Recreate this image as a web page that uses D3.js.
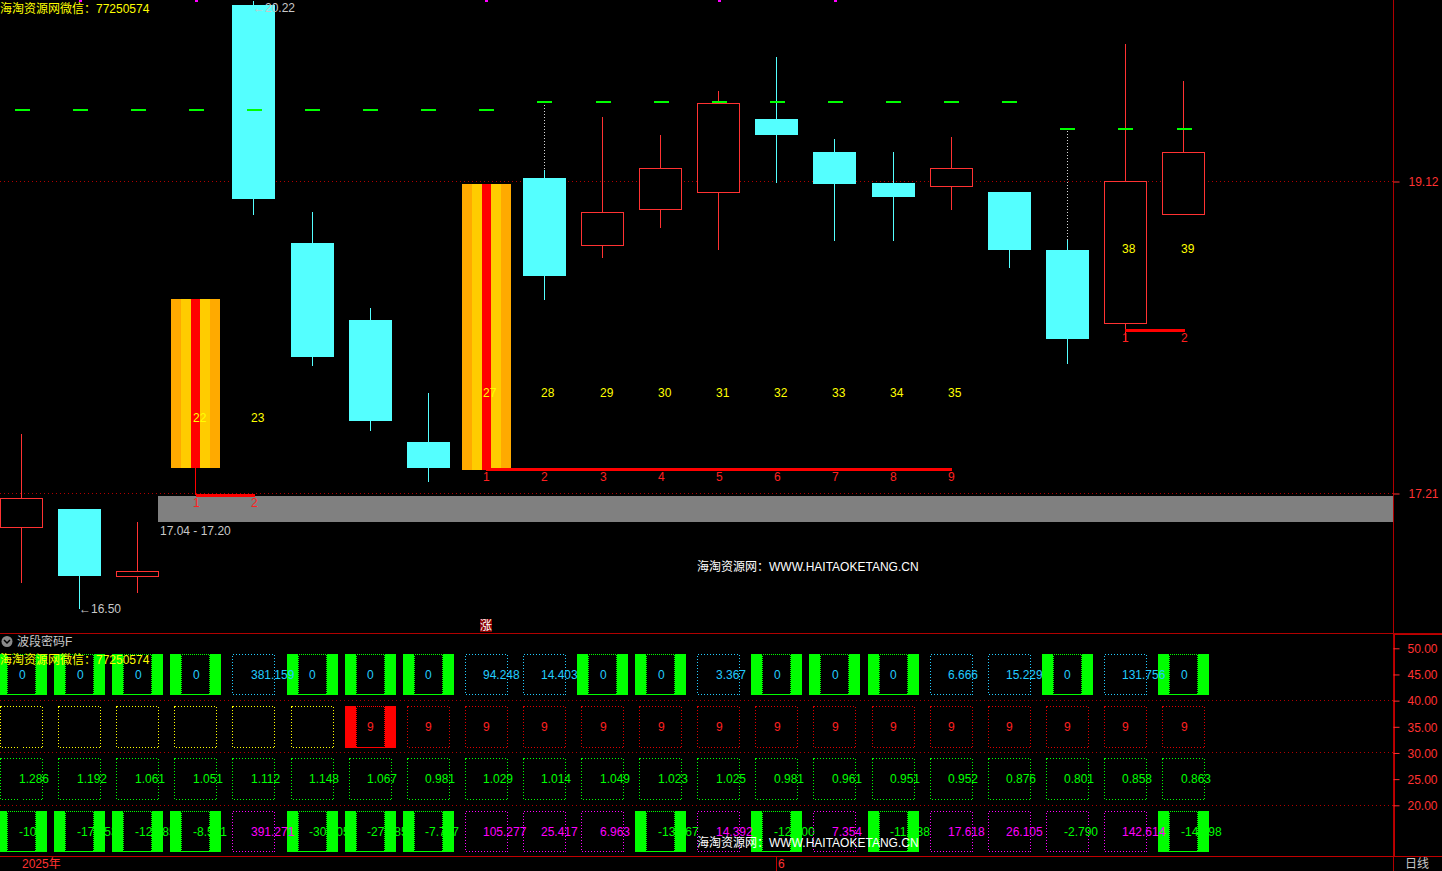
<!DOCTYPE html>
<html><head><meta charset="utf-8">
<script src="https://cdn.jsdelivr.net/npm/d3@7"></script>
<style>
html,body{margin:0;padding:0;background:#000;overflow:hidden}
svg{display:block}
text{font-family:"Liberation Sans","Noto Sans CJK SC",sans-serif;font-size:12px}
</style></head><body>
<svg id="c" width="1442" height="871"></svg>
<script>
// ---------- data ----------
const opens  = [17.00,17.11,16.70,17.36,20.20,18.74,18.27,17.52,17.35,19.14,18.73,18.95,19.05,19.50,19.30,19.11,19.09,19.05,18.70,18.25,18.92];
const highs  = [17.57,17.11,17.03,18.40,20.22,18.93,18.34,17.82,19.10,19.19,19.51,19.40,19.67,19.88,19.38,19.30,19.39,19.05,18.76,19.96,19.73];
const lows   = [16.66,16.50,16.60,17.20,18.91,17.99,17.59,17.28,17.35,18.39,18.65,18.83,18.70,19.11,18.75,18.75,18.94,18.59,18.00,18.14,18.92];
const closes = [17.18,16.70,16.73,18.40,19.01,18.04,17.65,17.36,19.10,18.54,18.93,19.20,19.60,19.40,19.10,19.02,19.20,18.70,18.15,19.12,19.30];
const limitUpIdx = [3, 8];
const resistLevels = [19.555,19.555,19.555,19.555,19.555,19.555,19.555,19.555,19.555,19.604,19.604,19.604,19.604,19.604,19.604,19.604,19.604,19.604,19.444,19.444,19.444];
const dottedIdx = [9, 18];
const markIdx = [1, 3, 8, 12, 14];
const countIdx   = [3, 4, 8, 9, 10, 11, 12, 13, 14, 15, 16, 19, 20];
const countText  = ["22","23","27","28","29","30","31","32","33","34","35","38","39"];
const countPrice = [17.67,17.67,17.826,17.826,17.826,17.826,17.826,17.826,17.826,17.826,17.826,18.706,18.706];
const segStart = [3, 8, 19];
const segEnd   = [4, 16, 20];
const segPrice = [17.20, 17.355, 18.21];
const bandLow = 17.04, bandHigh = 17.20;
const priceTicks = [19.12, 17.21];
const subTicks = [50, 45, 40, 35, 30, 25, 20];
const subGrid = [40, 30, 20];
const row1Vals = ["0","0","0","0","381.159","0","0","0","94.248","14.403","0","0","3.367","0","0","0","6.666","15.229","0","131.756","0"];
const row2Vals = ["","","","","","","9","9","9","9","9","9","9","9","9","9","9","9","9","9","9"];
const row2Filled = [6];
const row3Vals = ["1.286","1.192","1.061","1.051","1.112","1.148","1.067","0.981","1.029","1.014","1.049","1.023","1.025","0.981","0.961","0.951","0.952","0.876","0.801","0.858","0.863"];
const row4Vals = ["-10.1","-17.453","-12.885","-8.571","391.271","-30.105","-27.485","-7.727","105.277","25.417","6.963","-13.567","14.392","-12.200","7.354","-11.638","17.618","26.105","-2.790","142.614","-14.698"];
const row4Filled = [0,1,2,3,5,6,7,11,13,15,20];

// ---------- setup ----------
const svg = d3.select("#c");
const W = 1442, H = 871, axisX = 1393, mainBottom = 633, subBottom = 856;
const x = d3.scaleLinear().domain([0, 20]).range([21.5, 1183.5]);
const y = d3.scaleLinear().domain([19.12, 17.21]).range([181, 493]);
const ys = d3.scaleLinear().domain([50, 20]).range([648.3, 805.3]);
const HB = 21.5;
const CYAN = "#54ffff", RED = "#ff3232", AXRED = "#b00000";
const candles = d3.range(opens.length).map(i => ({i, o: opens[i], h: highs[i], l: lows[i], c: closes[i]}));
const px = v => Math.floor(v) + 0.5;

svg.append("rect").attr("width", W).attr("height", H).attr("fill", "#000");

// grid lines main
svg.selectAll(".g1").data(priceTicks).join("line")
  .attr("x1", 0).attr("x2", axisX).attr("y1", d => px(y(d))).attr("y2", d => px(y(d)))
  .attr("stroke", "#b00000").attr("stroke-dasharray", "1,3").attr("shape-rendering", "crispEdges");

// band
svg.append("rect").attr("x", Math.round(x(2) + HB - 1)).attr("y", Math.round(y(bandHigh)) + 1)
  .attr("width", axisX - Math.round(x(2) + HB - 1)).attr("height", Math.round(y(bandLow)) - Math.round(y(bandHigh)))
  .attr("fill", "#808080");
svg.append("text").attr("x", Math.round(x(2) + HB + 1)).attr("y", y(bandLow) + 10).attr("dy", "0.35em")
  .attr("fill", "#c8c8c8").text(bandLow.toFixed(2) + " - " + bandHigh.toFixed(2));

const main = svg.append("g").attr("shape-rendering", "crispEdges");
// normal candles
candles.filter(d => !limitUpIdx.includes(d.i)).forEach(d => {
  const cx = x(d.i), up = d.c >= d.o;
  const top = y(Math.max(d.o, d.c)), bot = y(Math.min(d.o, d.c));
  const col = up ? RED : CYAN;
  main.append("line").attr("x1", px(cx)).attr("x2", px(cx)).attr("y1", y(d.h)).attr("y2", top).attr("stroke", col);
  main.append("line").attr("x1", px(cx)).attr("x2", px(cx)).attr("y1", bot).attr("y2", y(d.l)).attr("stroke", col);
  if (up) {
    main.append("rect").attr("x", Math.round(cx - HB) + 0.5).attr("y", Math.round(top) + 0.5)
      .attr("width", 42).attr("height", Math.max(1, Math.round(bot) - Math.round(top)))
      .attr("fill", "#000").attr("stroke", col);
  } else {
    main.append("rect").attr("x", Math.round(cx - HB)).attr("y", Math.round(top))
      .attr("width", 43).attr("height", Math.max(1, Math.round(bot) - Math.round(top))).attr("fill", col);
  }
});
// limit-up bars
const stripeW = [10, 10, 9, 10, 10], stripeC = ["#ffaa00", "#ffcc00", "#ff0000", "#ffcc00", "#ffaa00"];
candles.filter(d => limitUpIdx.includes(d.i)).forEach(d => {
  const cx = x(d.i);
  const top = Math.round(y(d.c)), bot = Math.round(y(d.o));
  main.append("line").attr("x1", px(cx)).attr("x2", px(cx)).attr("y1", bot).attr("y2", y(d.l)).attr("stroke", "#ff0000");
  let sx = Math.round(cx - 24.5);
  stripeW.forEach((w, k) => {
    main.append("rect").attr("x", sx).attr("y", top).attr("width", w).attr("height", bot - top).attr("fill", stripeC[k]);
    sx += w;
  });
});
// dotted lines from high to resistance
dottedIdx.forEach(i => {
  main.append("line").attr("x1", px(x(i))).attr("x2", px(x(i))).attr("y1", y(resistLevels[i])).attr("y2", y(highs[i]))
    .attr("stroke", "#d8d8d8").attr("stroke-dasharray", "1,2");
});
// resistance dashes
main.selectAll(".rd").data(resistLevels).join("rect")
  .attr("x", (d, i) => Math.round(x(i)) - 7).attr("width", 15)
  .attr("y", d => Math.floor(y(d))).attr("height", 2).attr("fill", "#00ff00");
// magenta marks
main.selectAll(".mm").data(markIdx).join("rect")
  .attr("x", d => Math.round(x(d)) - 1).attr("y", 0).attr("width", 3).attr("height", 2).attr("fill", "#ff00ff");
// count labels
countIdx.forEach((i, k) => {
  main.append("text").attr("x", Math.round(x(i)) - 3).attr("y", y(countPrice[k])).attr("dy", "0.35em")
    .attr("fill", "#ffff00").text(countText[k]);
});
// red segments
segStart.forEach((s, k) => {
  const yy = Math.round(y(segPrice[k]));
  main.append("rect").attr("x", Math.round(x(s))).attr("width", Math.round(x(segEnd[k])) - Math.round(x(s)) + 1)
    .attr("y", yy - 1).attr("height", 3).attr("fill", "#ff0000");
  d3.range(s, segEnd[k] + 1).forEach((i, n) => {
    main.append("text").attr("x", Math.round(x(i)) - 3).attr("y", yy + 8).attr("dy", "0.35em")
      .attr("fill", "#ff2020").text(n + 1);
  });
});
// hi/lo labels
const hiIdx = highs.indexOf(d3.max(highs)), loIdx = lows.indexOf(d3.min(lows));
main.append("text").attr("x", Math.round(x(hiIdx)) - 1).attr("y", y(highs[hiIdx]) + 6).attr("dy", "0.35em")
  .attr("fill", "#c8c8c8").text("←" + highs[hiIdx].toFixed(2));
main.append("text").attr("x", Math.round(x(loIdx)) - 1).attr("y", y(lows[loIdx])).attr("dy", "0.35em")
  .attr("fill", "#c8c8c8").text("←" + lows[loIdx].toFixed(2));
// 涨 marker
main.append("rect").attr("x", Math.round(x(8)) - 6).attr("y", 619).attr("width", 12).attr("height", 13).attr("fill", "#8a0000");
main.append("text").attr("x", Math.round(x(8))).attr("y", 626).attr("dy", "0.35em").attr("text-anchor", "middle")
  .attr("fill", "#fff").text("涨");

// watermarks main
svg.append("text").attr("x", 0).attr("y", 9).attr("dy", "0.35em").attr("fill", "#ffff00").text("海淘资源网微信：77250574");
svg.append("text").attr("x", 697).attr("y", 567).attr("dy", "0.35em").attr("fill", "#ffffff").text("海淘资源网：WWW.HAITAOKETANG.CN");

// ---------- axes ----------
const ax = svg.append("g").attr("shape-rendering", "crispEdges");
ax.append("line").attr("x1", axisX + 0.5).attr("x2", axisX + 0.5).attr("y1", 0).attr("y2", H).attr("stroke", AXRED);
ax.append("line").attr("x1", 0).attr("x2", W).attr("y1", mainBottom + 0.5).attr("y2", mainBottom + 0.5).attr("stroke", AXRED);
ax.append("line").attr("x1", 0).attr("x2", W).attr("y1", subBottom + 0.5).attr("y2", subBottom + 0.5).attr("stroke", "#c00000");
ax.append("line").attr("x1", axisX + 1.5).attr("x2", axisX + 1.5).attr("y1", mainBottom + 1).attr("y2", subBottom).attr("stroke", "#c00000");
ax.append("line").attr("x1", axisX).attr("x2", W).attr("y1", mainBottom + 1.5).attr("y2", mainBottom + 1.5).attr("stroke", "#c00000");

const yAxis = d3.axisRight(y).tickValues(priceTicks).tickSize(6).tickFormat(d3.format(".2f"));
const ga = svg.append("g").attr("transform", `translate(${axisX + 0.5},0.5)`).call(yAxis);
ga.select(".domain").remove();
ga.selectAll("line").attr("stroke", "#ff3232");
ga.selectAll("text").attr("x", 15).attr("dy", "0.35em").attr("fill", "#ff3232").style("font-size", "12px")
  .style("font-family", '"Liberation Sans",sans-serif');

const sAxis = d3.axisRight(ys).tickValues(subTicks).tickSize(6).tickFormat(d3.format(".2f"));
const gs = svg.append("g").attr("transform", `translate(${axisX + 0.5},0)`).call(sAxis);
gs.select(".domain").remove();
gs.selectAll("line").attr("stroke", "#ff3232");
gs.selectAll("text").attr("x", 14).attr("dy", "0.35em").attr("fill", "#ff3232").style("font-size", "12px")
  .style("font-family", '"Liberation Sans",sans-serif');

// sub grid
svg.selectAll(".sg").data(subGrid).join("line")
  .attr("x1", 0).attr("x2", axisX).attr("y1", d => px(ys(d))).attr("y2", d => px(ys(d)))
  .attr("stroke", "#b00000").attr("stroke-dasharray", "1,3").attr("shape-rendering", "crispEdges");

// ---------- sub panel cells ----------
const rows = [
  {base: 45, vals: row1Vals, filled: row1Vals.map(v => v === "0"), fillCol: "#00ff00", boxCol: v => "#22ccff", txtCol: v => "#22ccff"},
  {base: 35, vals: row2Vals, filled: row2Vals.map((v, i) => row2Filled.includes(i)), fillCol: "#ff0000", boxCol: v => v === "" ? "#ffff00" : "#e00000", txtCol: v => "#ff2020"},
  {base: 25, vals: row3Vals, filled: row3Vals.map(() => false), fillCol: "#00ff00", boxCol: v => "#00ff00", txtCol: v => "#00ff00"},
  {base: 15, vals: row4Vals, filled: row4Vals.map((v, i) => row4Filled.includes(i)), fillCol: "#00ff00", boxCol: v => "#ff00ff", txtCol: v => (+v < 0 ? "#00ff00" : "#ff00ff")}
];
const lay1 = svg.append("g"), lay2 = svg.append("g").attr("shape-rendering", "crispEdges"), lay3 = svg.append("g");
rows.forEach(r => {
  const top = Math.round(ys(r.base + 4)), bot = Math.round(ys(r.base - 4));
  r.vals.forEach((v, i) => {
    const cx = x(i);
    const tl = r.filled[i] ? lay1 : lay3;
    if (v !== "") tl.append("text").attr("x", Math.round(cx) - 3).attr("y", ys(r.base)).attr("dy", "0.35em")
      .attr("fill", r.txtCol(v)).text(v);
    if (r.filled[i]) {
      lay2.append("rect").attr("x", Math.round(cx - 25.5)).attr("y", top).attr("width", 11).attr("height", bot - top).attr("fill", r.fillCol);
      lay2.append("rect").attr("x", Math.round(cx + 14.5)).attr("y", top).attr("width", 11).attr("height", bot - top).attr("fill", r.fillCol);
      lay2.append("rect").attr("x", Math.round(cx - 14.5) + 0.5).attr("y", top + 0.5).attr("width", 28).attr("height", bot - top - 1)
        .attr("fill", "none").attr("stroke", r.fillCol).attr("stroke-dasharray", "1,1");
      lay2.append("line").attr("x1", Math.round(cx - 14.5)).attr("x2", Math.round(cx + 14.5)).attr("y1", bot - 0.5).attr("y2", bot - 0.5)
        .attr("stroke", r.fillCol);
    } else {
      lay2.append("rect").attr("x", Math.round(cx - HB) + 0.5).attr("y", top + 0.5).attr("width", 42).attr("height", bot - top - 1)
        .attr("fill", "none").attr("stroke", r.boxCol(v)).attr("stroke-dasharray", "1,2");
    }
  });
});

// sub title
svg.append("circle").attr("cx", 7).attr("cy", 641.5).attr("r", 5.5).attr("fill", "#8a8a8a");
svg.append("polyline").attr("points", "4,640 7,643 10,640").attr("fill", "none").attr("stroke", "#000").attr("stroke-width", 1.5);
svg.append("text").attr("x", 17).attr("y", 641.5).attr("dy", "0.35em").attr("fill", "#c8c8c8").text("波段密码F");
svg.append("text").attr("x", 0).attr("y", 660).attr("dy", "0.35em").attr("fill", "#ffff00").text("海淘资源网微信：77250574");
svg.append("text").attr("x", 697).attr("y", 843).attr("dy", "0.35em").attr("fill", "#ffffff").text("海淘资源网：WWW.HAITAOKETANG.CN");

// bottom axis
svg.append("text").attr("x", Math.round(x(0))).attr("y", 864).attr("dy", "0.35em").attr("fill", "#ff3232").text("2025年");
svg.append("line").attr("x1", px(x(13))).attr("x2", px(x(13))).attr("y1", subBottom + 1).attr("y2", H).attr("stroke", "#c00000").attr("shape-rendering", "crispEdges");
svg.append("text").attr("x", Math.round(x(13)) + 1).attr("y", 864).attr("dy", "0.35em").attr("fill", "#ff3232").text("6");
svg.append("text").attr("x", 1405).attr("y", 864).attr("dy", "0.35em").attr("fill", "#c8c8c8").text("日线");
</script>
</body></html>
